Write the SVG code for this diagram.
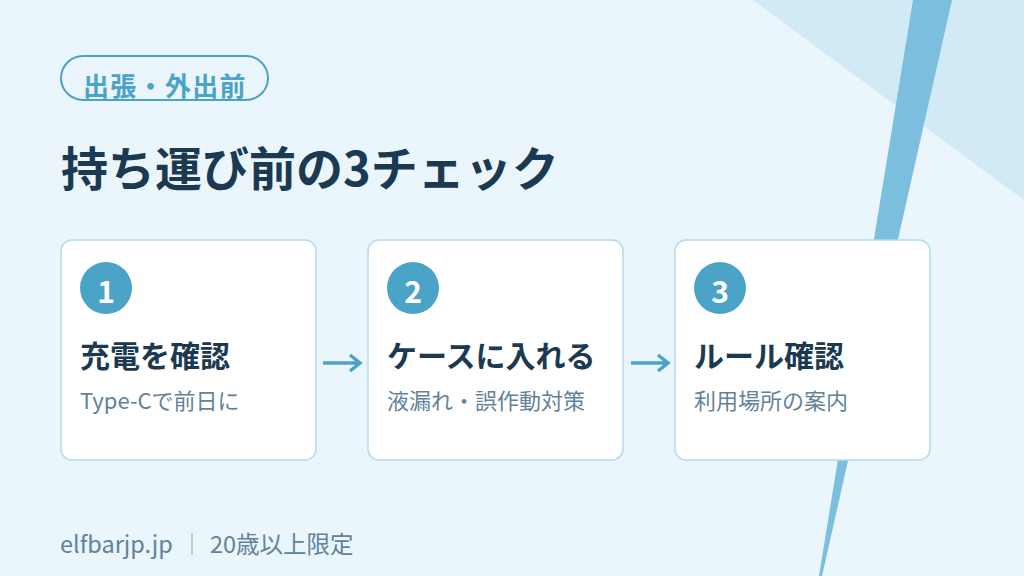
<svg xmlns="http://www.w3.org/2000/svg" width="1024" height="576" viewBox="0 0 1024 576">
<style>
.jp{font-family:"Noto Sans CJK JP","Noto Sans",sans-serif}
.card{fill:#FFFFFF;stroke:#B3DBEE;stroke-width:1.5}
.num-c{fill:#4BA3C7}
.num{fill:#FFFFFF;font-weight:700;font-size:30px;text-anchor:middle}
.head{fill:#1B3A52;font-weight:700;font-size:30px}
.sub{fill:#62829A;font-size:22px}
.arrow{fill:none;stroke:#4BA3C7;stroke-width:3.5;stroke-linecap:butt;stroke-linejoin:miter}
</style>
<rect width="1024" height="576" fill="#EAF5FC"/>
<polygon points="753,0 1024,0 1024,200" fill="#D2E9F6"/>
<polygon points="913,0 952,0 822,576 819,576" fill="#7BBEDD"/>
<g id="tag">
<rect x="61" y="56" width="207" height="44" rx="22" fill="none" stroke="#4BA3C7" stroke-width="2"/>
<text class="jp" x="83" y="96" font-size="26" font-weight="700" fill="#4BA3C7" letter-spacing="1.3">出張・外出前</text>
</g>
<g id="title">
<text class="jp" x="61" y="186" font-size="47" font-weight="700" fill="#1B3A52">持ち運び前の3チェック</text>
</g>
<g id="card1">
<rect class="card" x="61" y="240" width="255" height="220" rx="11"/>
<circle class="num-c" cx="106" cy="288" r="26"/>
<text class="jp num" x="106" y="303">1</text>
<text class="jp head" x="80" y="367">充電を確認</text>
<text class="jp sub" x="80" y="409">Type-Cで前日に</text>
</g>
<g id="card2">
<rect class="card" x="368" y="240" width="255" height="220" rx="11"/>
<circle class="num-c" cx="413" cy="288" r="26"/>
<text class="jp num" x="413" y="303">2</text>
<text class="jp head" x="387" y="367">ケースに入れる</text>
<text class="jp sub" x="387" y="409">液漏れ・誤作動対策</text>
</g>
<g id="card3">
<rect class="card" x="675" y="240" width="255" height="220" rx="11"/>
<circle class="num-c" cx="720" cy="288" r="26"/>
<text class="jp num" x="720" y="303">3</text>
<text class="jp head" x="694" y="367">ルール確認</text>
<text class="jp sub" x="694" y="409">利用場所の案内</text>
</g>
<g id="connectors">
<path class="arrow" d="M323,363 H360 M350,355 L360,363 L350,371"/>
<path class="arrow" d="M631,363 H668 M658,355 L668,363 L658,371"/>
</g>
<g id="footer">
<text class="jp" x="60" y="553" font-size="23.5" fill="#62829A">elfbarjp.jp</text>
<line x1="192" y1="533" x2="192" y2="555" stroke="#A9C3D3" stroke-width="1.5"/>
<text class="jp" x="210" y="553" font-size="23.5" fill="#62829A">20歳以上限定</text>
</g>
</svg>
